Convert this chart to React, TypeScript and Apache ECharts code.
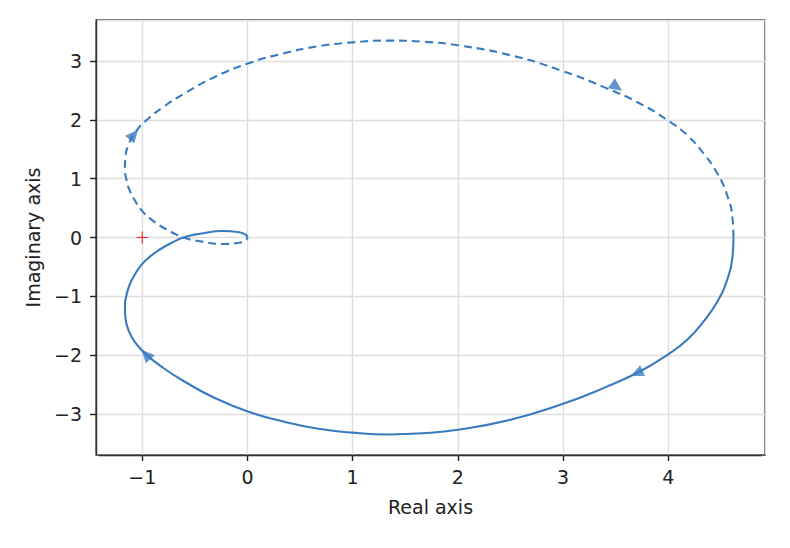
import React, { useEffect, useRef } from 'react';
import * as echarts from 'echarts';

// Nyquist curve, positive frequencies (solid branch)
const curveRe = [4.62, 4.61, 4.56, 4.47, 4.34, 4.18, 3.99, 3.73, 3.40, 3.0, 2.5, 2.0, 1.67, 1.35, 1.0, 0.66, 0.34, 0.02, -0.3, -0.6, -0.8, -0.97, -1.07, -1.13, -1.16, -1.165, -1.15, -1.12, -1.07, -1.01, -0.93, -0.83, -0.72, -0.61, -0.45, -0.23, -0.08, -0.015, 0];
const curveIm = [0, -0.35, -0.72, -1.08, -1.42, -1.74, -2.0, -2.28, -2.55, -2.83, -3.10, -3.27, -3.33, -3.35, -3.32, -3.25, -3.13, -2.97, -2.74, -2.45, -2.22, -1.98, -1.78, -1.58, -1.37, -1.16, -0.98, -0.8, -0.63, -0.47, -0.33, -0.2, -0.09, 0, 0.065, 0.11, 0.09, 0.045, 0];

// direction arrows: position and a point further along the direction of travel
const arrowRe = [3.70, -0.965, -1.08, 3.51];
const arrowIm = [-2.31, -1.99, 1.75, 2.56];
const arrowNextRe = [3.40, -1.07, -0.97, 3.73];
const arrowNextIm = [-2.55, -1.78, 1.98, 2.28];

const criticalRe = [-1];
const criticalIm = [0];

const xMin = -1.44;
const xMax = 4.92;
const yMin = -3.70;
const yMax = 3.70;

const BLUE = '#3a7bbf';
const FONT = 'DejaVu Sans';
const FS = 19;

const fmt = (v: number) => {
  const r = Math.round(v);
  if (Math.abs(v - r) > 1e-6) return '';
  return r < 0 ? '\u2212' + Math.abs(r) : String(r);
};

export default function App() {
  const ref = useRef<HTMLDivElement>(null);
  useEffect(() => {
    const chart = echarts.init(ref.current!, null, { renderer: 'svg' });
    const solid = curveRe.map((x, i) => [x, curveIm[i]]);
    const dashed = curveRe.map((x, i) => [x, -curveIm[i]]);
    const tickStyle = { show: true, inside: false, length: 6, lineStyle: { color: '#222', width: 1.4 } };
    const axisCommon = {
      type: 'value',
      axisLine: { show: true, onZero: false, lineStyle: { color: '#333', width: 1.4 } },
      splitLine: { show: true, lineStyle: { color: '#dedede', width: 1.4 } },
      nameTextStyle: { fontFamily: FONT, fontSize: FS, color: '#222' },
    };
    const L = 96, R = 25, T = 20, B = 93;
    const W = 790, H = 548;
    const cover = (x: number, y: number, w: number, h: number) => ({
      type: 'rect', shape: { x, y, width: w, height: h }, style: { fill: '#ffffff' }, z: 100, silent: true,
    });
    const option: any = {
      animation: false,
      backgroundColor: '#ffffff',
      grid: {
        left: L, right: R, top: T, bottom: B,
        show: true, borderColor: '#333', borderWidth: 1.4, backgroundColor: 'transparent',
      },
      // hide the stub ticks that the axes put at their non-round extents (plot corners)
      graphic: [
        cover(L - 3, H - B + 0.8, 6, 8),
        cover(W - R - 3, H - B + 0.8, 6, 8),
        cover(L - 9, H - B - 2, 8.2, 4),
        cover(L - 9, T - 2, 8.2, 4),
      ],
      xAxis: {
        ...axisCommon,
        position: 'bottom',
        min: xMin, max: xMax,
        name: 'Real axis', nameLocation: 'middle', nameGap: 42,
        axisTick: { ...tickStyle },
        axisLabel: { formatter: fmt, margin: 12, fontFamily: FONT, fontSize: FS, color: '#222', showMinLabel: false, showMaxLabel: false },
      },
      yAxis: {
        ...axisCommon,
        position: 'left',
        min: yMin, max: yMax,
        name: 'Imaginary axis', nameLocation: 'middle', nameGap: 54, nameRotate: 90,
        axisTick: { ...tickStyle },
        axisLabel: { formatter: fmt, margin: 14, fontFamily: FONT, fontSize: FS, color: '#222', showMinLabel: false, showMaxLabel: false },
      },
      series: [
        {
          id: 'solid', type: 'line', data: solid, showSymbol: false, smooth: 0.5,
          lineStyle: { color: BLUE, width: 2.1 }, z: 3,
        },
        {
          id: 'dashed', type: 'line', data: dashed, showSymbol: false, smooth: 0.5,
          lineStyle: { color: BLUE, width: 2.1, type: [8, 5] }, z: 3,
        },
        {
          id: 'critical', type: 'scatter', data: criticalRe.map((x, i) => [x, criticalIm[i]]),
          symbol: 'path://M0,5.4H12V6.6H0ZM5.4,0H6.6V12H5.4Z', symbolSize: 12,
          itemStyle: { color: '#ff0000' }, z: 4,
        },
      ],
    };
    chart.setOption(option);
    const arrows = arrowRe.map((x, i) => {
      const p = chart.convertToPixel({ gridIndex: 0 }, [x, arrowIm[i]]) as number[];
      const q = chart.convertToPixel({ gridIndex: 0 }, [arrowNextRe[i], arrowNextIm[i]]) as number[];
      const ang = (Math.atan2(-(q[1] - p[1]), q[0] - p[0]) * 180) / Math.PI;
      return { value: [x, arrowIm[i]], symbolRotate: ang - 90 };
    });
    chart.setOption({
      series: [
        {
          id: 'arrows', type: 'scatter', data: arrows, symbol: 'triangle', symbolSize: [12, 13],
          itemStyle: { color: BLUE }, z: 5,
        },
      ],
    });
    return () => chart.dispose();
  }, []);
  return <div ref={ref} style={{ position: 'fixed', left: 0, top: 0, width: 790, height: 548 }} />;
}
